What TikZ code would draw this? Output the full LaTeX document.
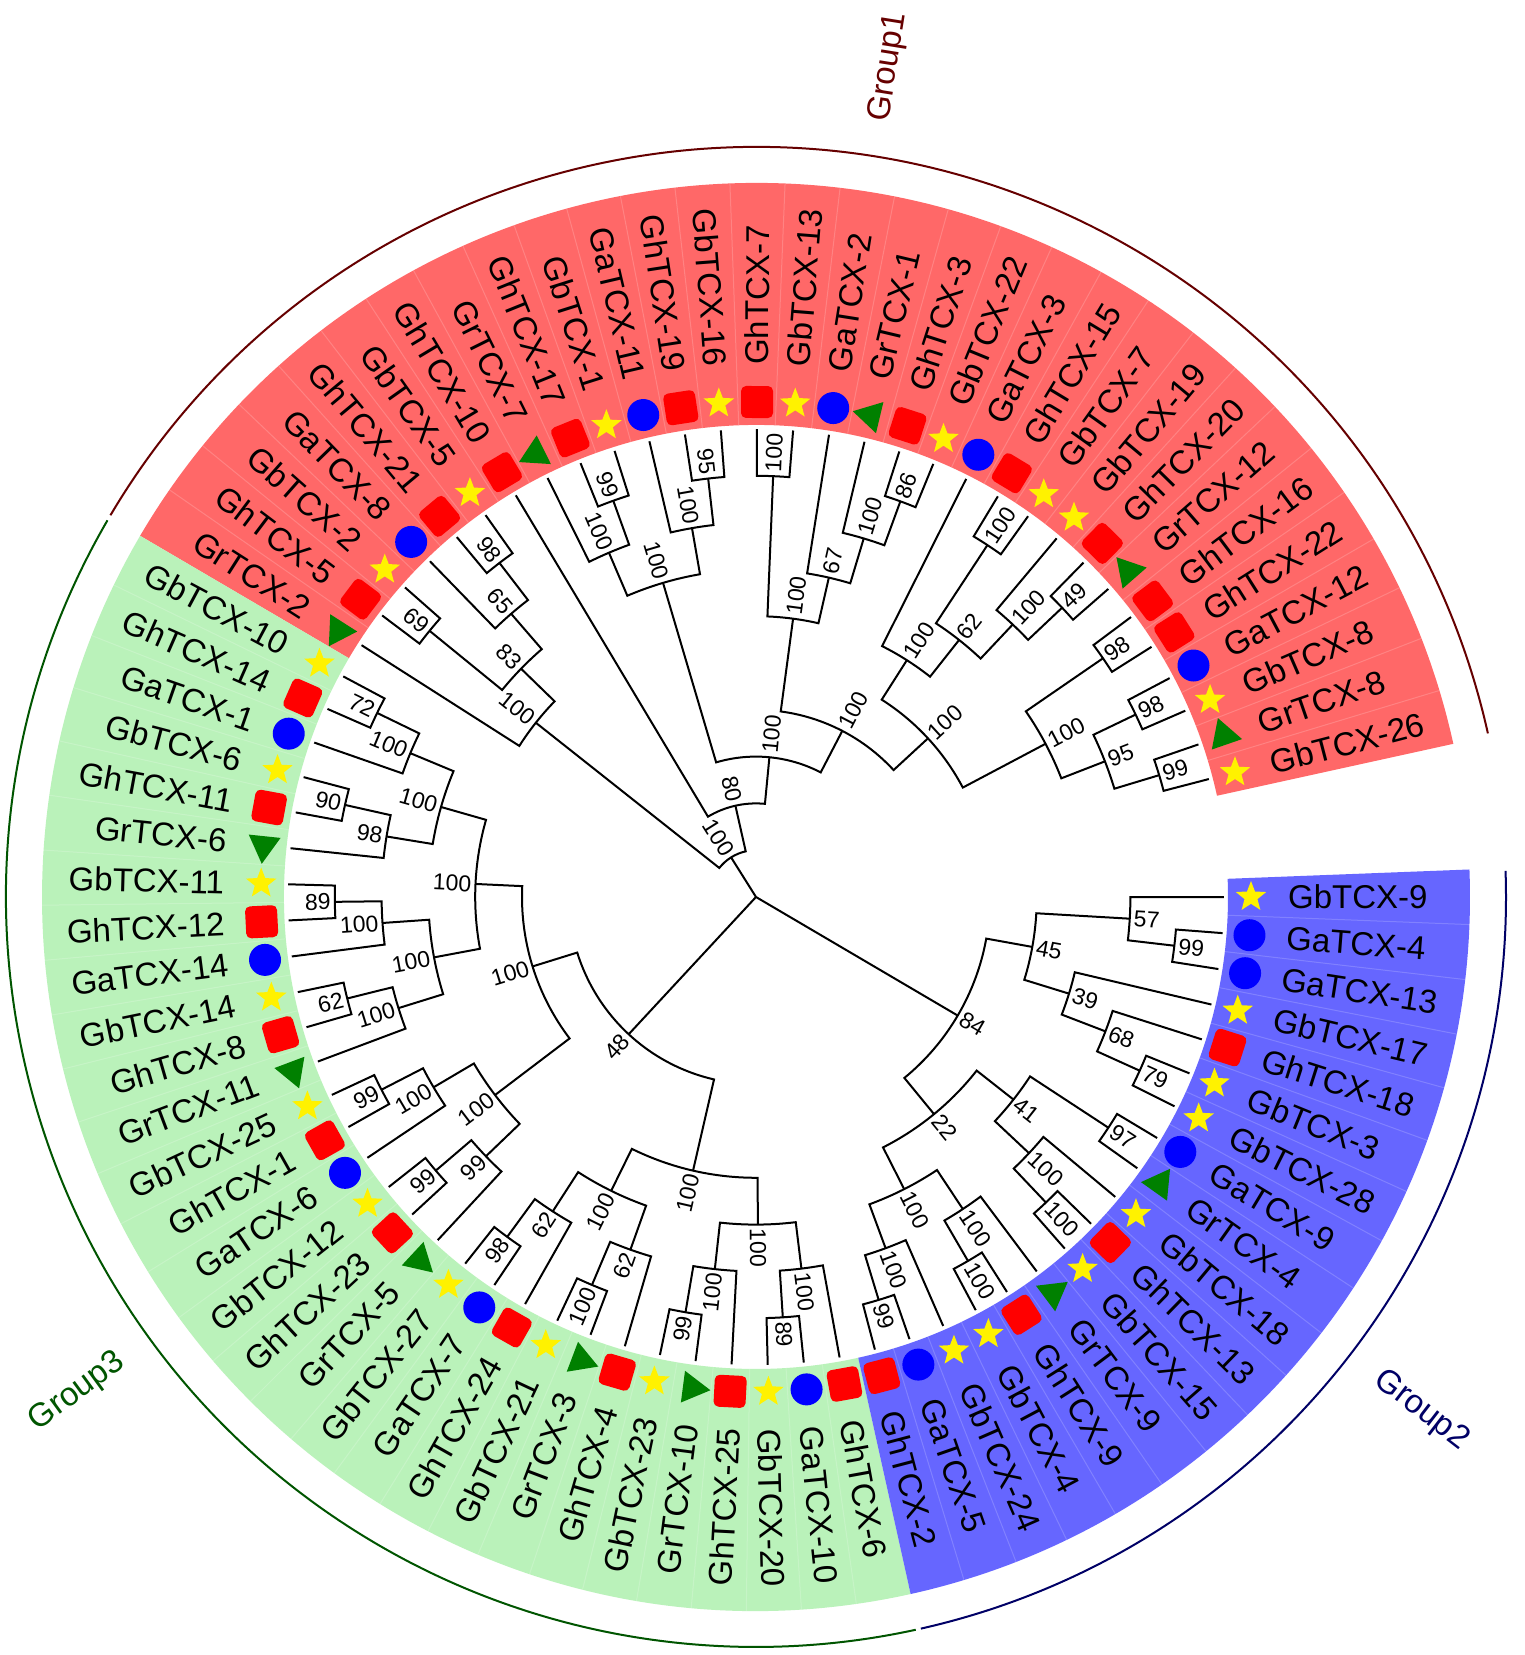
\documentclass[tikz,border=0pt]{standalone}
\usepackage{fontspec}
\setmainfont{Liberation Sans}
\definecolor{bgred}{RGB}{255,104,104}
\definecolor{bggreen}{RGB}{186,242,186}
\definecolor{bgblue}{RGB}{102,102,255}
\definecolor{symgreen}{RGB}{0,128,0}
\definecolor{gonecol}{RGB}{102,0,0}
\definecolor{gtwocol}{RGB}{0,0,102}
\definecolor{gthreecol}{RGB}{0,85,0}
\tikzset{
  branch/.style={line width=2, black},
  leaflab/.style={inner sep=0, font=\fontsize{33}{33}\selectfont},
  bslab/.style={inner sep=0, font=\fontsize{23}{23}\selectfont},
  grouplab/.style={inner sep=0, font=\fontsize{33}{33}\selectfont},
  sepline/.style={white, opacity=0.18, line width=1},
}
\newcommand\TText[5]{%
  \ifdim #1pt>90pt
    \ifdim #1pt<270pt
      \node[#3, anchor=east, rotate=#1-180] (#5) at (#1:#2) {#4};
    \else
      \node[#3, anchor=west, rotate=#1] (#5) at (#1:#2) {#4};
    \fi
  \else
    \node[#3, anchor=west, rotate=#1] (#5) at (#1:#2) {#4};
  \fi}
\newcommand\TSymsq[1]{\fill[red, rounded corners=5, shift={(#1:495)}, rotate=#1] (-16,-16) rectangle (16,16);}
\newcommand\TSymci[1]{\fill[blue] (#1:495) circle[radius=16];}
\newcommand\TSymtr[1]{\fill[symgreen, shift={(#1:495)}, rotate=#1] (0,18.5) -- (-16,-9.2) -- (16,-9.2) -- cycle;}
\newcommand\TSymst[1]{\fill[yellow, shift={(#1:495)}] (90:16) -- (126:6.8) -- (162:16) -- (198:6.8) -- (234:16) -- (270:6.8) -- (306:16) -- (342:6.8) -- (18:16) -- (54:6.8) -- cycle;}
\newcommand\TLeaf[4]{%
  \pgfmathsetmacro\la{14.6+4.4282*#2}%
  \expandafter\xdef\csname ang-#1\endcsname{\la}%
  \coordinate (#1) at (\la:468);
  \csname TSym#4\endcsname{\la}%
  \TText{\la}{532}{leaflab}{#3}{t#1}}
\newcommand\TClade[5]{%
  \edef\ca{\csname ang-#3\endcsname}%
  \edef\cb{\csname ang-#4\endcsname}%
  \pgfmathsetmacro\na{(\ca+\cb)/2}%
  \pgfmathsetmacro\nr{468-46.8*#2}%
  \expandafter\xdef\csname ang-#1\endcsname{\na}%
  \coordinate (#1) at (\na:\nr);
  \draw[branch] (#3) -- (\ca:\nr) arc[start angle=\ca, end angle=\cb, radius=\nr] -- (#4);
  \pgfmathsetmacro\lr{\nr+4}%
  \TText{\na}{\lr}{bslab}{#5}{b#1}}
\begin{document}
\begin{tikzpicture}[x=1pt,y=1pt]
\useasboundingbox (-756,-758) rectangle (768,897);
\fill[white] (-756,-758) rectangle (768,897);
% backgrounds
\fill[bgred] (12.39:472) arc[start angle=12.39, end angle=149.61, radius=472] -- (149.61:714) arc[start angle=149.61, end angle=12.39, radius=714] -- cycle;
\fill[bggreen] (149.61:472) arc[start angle=149.61, end angle=282.51, radius=472] -- (282.51:714) arc[start angle=282.51, end angle=149.61, radius=714] -- cycle;
\fill[bgblue] (282.51:472) arc[start angle=282.51, end angle=362.21, radius=472] -- (362.21:714) arc[start angle=362.21, end angle=282.51, radius=714] -- cycle;
\foreach \k in {0,...,29} {\pgfmathsetmacro\sa{16.814+4.4282*\k}\draw[sepline] (\sa:472) -- (\sa:714);}
\foreach \k in {31,...,59} {\pgfmathsetmacro\sa{16.814+4.4282*\k}\draw[sepline] (\sa:472) -- (\sa:714);}
\foreach \k in {61,...,77} {\pgfmathsetmacro\sa{16.814+4.4282*\k}\draw[sepline] (\sa:472) -- (\sa:714);}
% group arcs
\draw[gonecol, line width=2] (12.6:750) arc[start angle=12.6, end angle=149.4, radius=750];
\draw[gthreecol, line width=2] (149.85:750) arc[start angle=149.85, end angle=282.3, radius=750];
\draw[gtwocol, line width=2] (282.7:750) arc[start angle=282.7, end angle=362.0, radius=750];
\node[grouplab, text=gonecol, anchor=west, rotate=80.9] (gone) at (80.9:785) {Group1};
\node[grouplab, text=gtwocol, anchor=west, rotate=-37.65] (gtwo) at (-37.65:785) {Group2};
\node[grouplab, text=gthreecol, anchor=east, rotate=36.1] (gthree) at (216.1:785) {Group3};
% leaves
\TLeaf{L0}{0}{GbTCX-26}{st}
\TLeaf{L1}{1}{GrTCX-8}{tr}
\TLeaf{L2}{2}{GbTCX-8}{st}
\TLeaf{L3}{3}{GaTCX-12}{ci}
\TLeaf{L4}{4}{GhTCX-22}{sq}
\TLeaf{L5}{5}{GhTCX-16}{sq}
\TLeaf{L6}{6}{GrTCX-12}{tr}
\TLeaf{L7}{7}{GhTCX-20}{sq}
\TLeaf{L8}{8}{GbTCX-19}{st}
\TLeaf{L9}{9}{GbTCX-7}{st}
\TLeaf{L10}{10}{GhTCX-15}{sq}
\TLeaf{L11}{11}{GaTCX-3}{ci}
\TLeaf{L12}{12}{GbTCX-22}{st}
\TLeaf{L13}{13}{GhTCX-3}{sq}
\TLeaf{L14}{14}{GrTCX-1}{tr}
\TLeaf{L15}{15}{GaTCX-2}{ci}
\TLeaf{L16}{16}{GbTCX-13}{st}
\TLeaf{L17}{17}{GhTCX-7}{sq}
\TLeaf{L18}{18}{GbTCX-16}{st}
\TLeaf{L19}{19}{GhTCX-19}{sq}
\TLeaf{L20}{20}{GaTCX-11}{ci}
\TLeaf{L21}{21}{GbTCX-1}{st}
\TLeaf{L22}{22}{GhTCX-17}{sq}
\TLeaf{L23}{23}{GrTCX-7}{tr}
\TLeaf{L24}{24}{GhTCX-10}{sq}
\TLeaf{L25}{25}{GbTCX-5}{st}
\TLeaf{L26}{26}{GhTCX-21}{sq}
\TLeaf{L27}{27}{GaTCX-8}{ci}
\TLeaf{L28}{28}{GbTCX-2}{st}
\TLeaf{L29}{29}{GhTCX-5}{sq}
\TLeaf{L30}{30}{GrTCX-2}{tr}
\TLeaf{L31}{31}{GbTCX-10}{st}
\TLeaf{L32}{32}{GhTCX-14}{sq}
\TLeaf{L33}{33}{GaTCX-1}{ci}
\TLeaf{L34}{34}{GbTCX-6}{st}
\TLeaf{L35}{35}{GhTCX-11}{sq}
\TLeaf{L36}{36}{GrTCX-6}{tr}
\TLeaf{L37}{37}{GbTCX-11}{st}
\TLeaf{L38}{38}{GhTCX-12}{sq}
\TLeaf{L39}{39}{GaTCX-14}{ci}
\TLeaf{L40}{40}{GbTCX-14}{st}
\TLeaf{L41}{41}{GhTCX-8}{sq}
\TLeaf{L42}{42}{GrTCX-11}{tr}
\TLeaf{L43}{43}{GbTCX-25}{st}
\TLeaf{L44}{44}{GhTCX-1}{sq}
\TLeaf{L45}{45}{GaTCX-6}{ci}
\TLeaf{L46}{46}{GbTCX-12}{st}
\TLeaf{L47}{47}{GhTCX-23}{sq}
\TLeaf{L48}{48}{GrTCX-5}{tr}
\TLeaf{L49}{49}{GbTCX-27}{st}
\TLeaf{L50}{50}{GaTCX-7}{ci}
\TLeaf{L51}{51}{GhTCX-24}{sq}
\TLeaf{L52}{52}{GbTCX-21}{st}
\TLeaf{L53}{53}{GrTCX-3}{tr}
\TLeaf{L54}{54}{GhTCX-4}{sq}
\TLeaf{L55}{55}{GbTCX-23}{st}
\TLeaf{L56}{56}{GrTCX-10}{tr}
\TLeaf{L57}{57}{GhTCX-25}{sq}
\TLeaf{L58}{58}{GbTCX-20}{st}
\TLeaf{L59}{59}{GaTCX-10}{ci}
\TLeaf{L60}{60}{GhTCX-6}{sq}
\TLeaf{L61}{61}{GhTCX-2}{sq}
\TLeaf{L62}{62}{GaTCX-5}{ci}
\TLeaf{L63}{63}{GbTCX-24}{st}
\TLeaf{L64}{64}{GbTCX-4}{st}
\TLeaf{L65}{65}{GhTCX-9}{sq}
\TLeaf{L66}{66}{GrTCX-9}{tr}
\TLeaf{L67}{67}{GbTCX-15}{st}
\TLeaf{L68}{68}{GhTCX-13}{sq}
\TLeaf{L69}{69}{GbTCX-18}{st}
\TLeaf{L70}{70}{GrTCX-4}{tr}
\TLeaf{L71}{71}{GaTCX-9}{ci}
\TLeaf{L72}{72}{GbTCX-28}{st}
\TLeaf{L73}{73}{GbTCX-3}{st}
\TLeaf{L74}{74}{GhTCX-18}{sq}
\TLeaf{L75}{75}{GbTCX-17}{st}
\TLeaf{L76}{76}{GaTCX-13}{ci}
\TLeaf{L77}{77}{GaTCX-4}{ci}
\TLeaf{L78}{78}{GbTCX-9}{st}
% group 1 clades
\TClade{a1}{1}{L0}{L1}{99}
\TClade{a2}{1}{L2}{L3}{98}
\TClade{a3}{2}{a1}{a2}{95}
\TClade{a4}{1}{L4}{L5}{98}
\TClade{a5}{3}{a3}{a4}{100}
\TClade{a6}{1}{L6}{L7}{49}
\TClade{a7}{2}{a6}{L8}{100}
\TClade{a8}{1}{L9}{L10}{100}
\TClade{a9}{3}{a7}{a8}{62}
\TClade{a10}{4}{a9}{L11}{100}
\TClade{a11}{5}{a5}{a10}{100}
\TClade{b1}{1}{L12}{L13}{86}
\TClade{b2}{2}{b1}{L14}{100}
\TClade{b3}{3}{b2}{L15}{67}
\TClade{b4}{1}{L16}{L17}{100}
\TClade{b5}{4}{b3}{b4}{100}
\TClade{b6}{6}{a11}{b5}{100}
\TClade{c1}{1}{L18}{L19}{95}
\TClade{c2}{2}{c1}{L20}{100}
\TClade{c3}{1}{L21}{L22}{99}
\TClade{c4}{2}{c3}{L23}{100}
\TClade{c5}{3}{c2}{c4}{100}
\TClade{c6}{7}{b6}{c5}{100}
\TClade{c7}{8}{c6}{L24}{80}
\TClade{d1}{1}{L25}{L26}{98}
\TClade{d2}{2}{d1}{L27}{65}
\TClade{d3}{1}{L28}{L29}{69}
\TClade{d4}{3}{d2}{d3}{83}
\TClade{d5}{4}{d4}{L30}{100}
\TClade{R1}{9}{c7}{d5}{100}
% group 3 clades
\TClade{e1}{1}{L31}{L32}{72}
\TClade{e2}{2}{e1}{L33}{100}
\TClade{e3}{1}{L34}{L35}{90}
\TClade{e4}{2}{e3}{L36}{98}
\TClade{e5}{3}{e2}{e4}{100}
\TClade{e6}{1}{L37}{L38}{89}
\TClade{e7}{2}{e6}{L39}{100}
\TClade{e8}{1}{L40}{L41}{62}
\TClade{e9}{2}{e8}{L42}{100}
\TClade{e10}{3}{e7}{e9}{100}
\TClade{e11}{4}{e5}{e10}{100}
\TClade{f1}{1}{L43}{L44}{99}
\TClade{f2}{2}{f1}{L45}{100}
\TClade{f3}{1}{L46}{L47}{99}
\TClade{f4}{2}{f3}{L48}{99}
\TClade{f5}{3}{f2}{f4}{100}
\TClade{e12}{5}{e11}{f5}{100}
\TClade{g1}{1}{L49}{L50}{98}
\TClade{g2}{2}{g1}{L51}{62}
\TClade{g3}{1}{L52}{L53}{100}
\TClade{g4}{2}{g3}{L54}{62}
\TClade{g5}{3}{g2}{g4}{100}
\TClade{g6}{1}{L55}{L56}{99}
\TClade{g7}{2}{g6}{L57}{100}
\TClade{g8}{1}{L58}{L59}{89}
\TClade{g9}{2}{g8}{L60}{100}
\TClade{g10}{3}{g7}{g9}{100}
\TClade{g11}{4}{g5}{g10}{100}
\TClade{G48}{6}{e12}{g11}{48}
% group 2 clades
\TClade{i7}{1}{L61}{L62}{99}
\TClade{i8}{2}{i7}{L63}{100}
\TClade{i5}{1}{L64}{L65}{100}
\TClade{i6}{2}{i5}{L66}{100}
\TClade{i9}{3}{i8}{i6}{100}
\TClade{i2}{1}{L67}{L68}{100}
\TClade{i3}{2}{i2}{L69}{100}
\TClade{i1}{1}{L70}{L71}{97}
\TClade{i4}{3}{i3}{i1}{41}
\TClade{i10}{4}{i9}{i4}{22}
\TClade{h3}{1}{L72}{L73}{79}
\TClade{h4}{2}{h3}{L74}{68}
\TClade{h5}{3}{h4}{L75}{39}
\TClade{h1}{1}{L76}{L77}{99}
\TClade{h2}{2}{h1}{L78}{57}
\TClade{h6}{4}{h5}{h2}{45}
\TClade{B84}{5}{i10}{h6}{84}
% root
\coordinate (root) at (0,0);
\draw[branch] (root) -- (R1);
\draw[branch] (root) -- (G48);
\draw[branch] (root) -- (B84);
\end{tikzpicture}
\end{document}
